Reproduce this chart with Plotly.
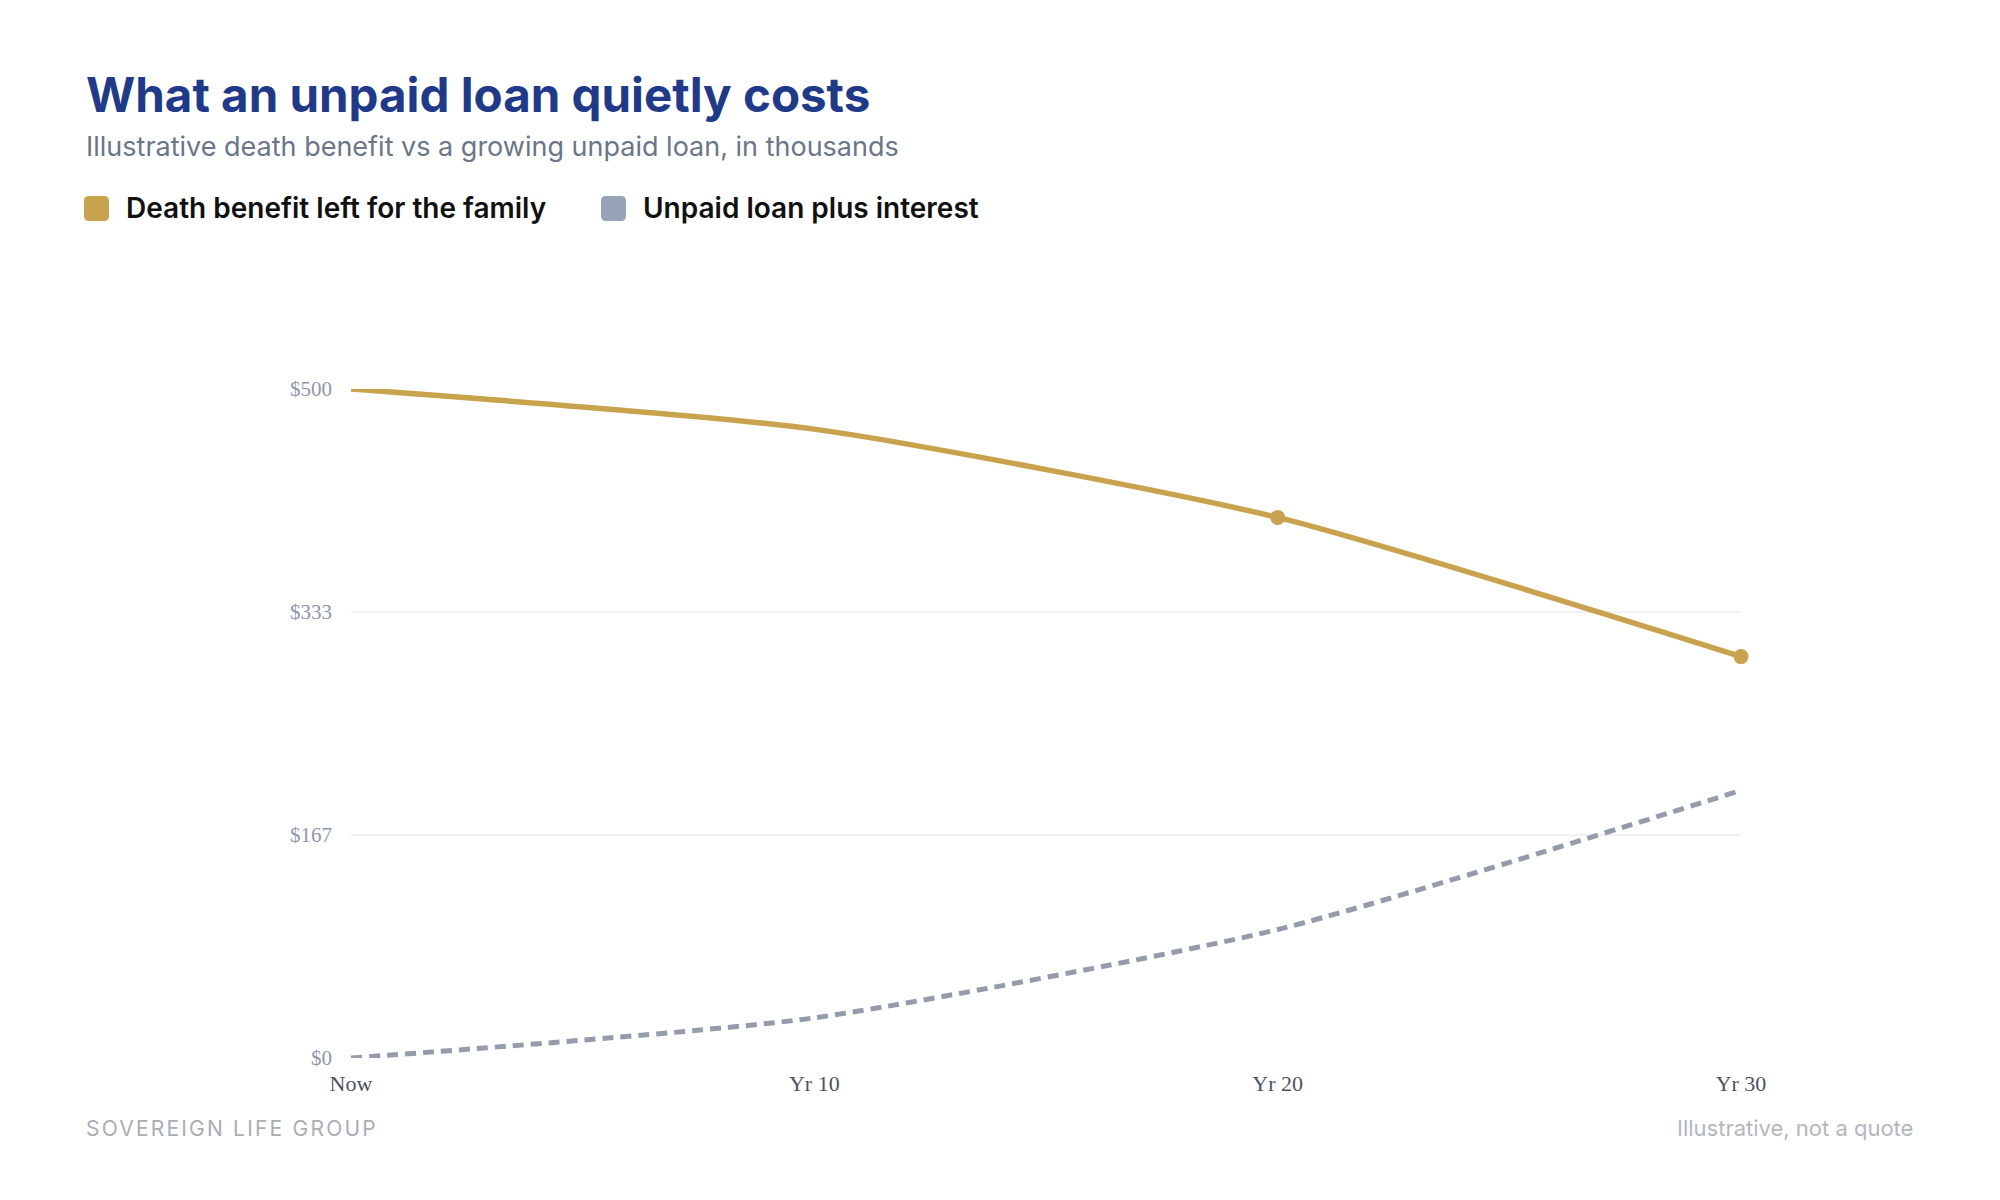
import plotly.graph_objects as go

# ---- data ----
periods = ["Now", "Yr 10", "Yr 20", "Yr 30"]
benefit = [500, 470, 404, 300]
loan = [0, 30, 96, 200]
y_ticks = [0, 500 / 3, 1000 / 3, 500]
y_tick_labels = ["$0", "$167", "$333", "$500"]
series_names = ["Death benefit left for the family", "Unpaid loan plus interest"]
title_text = "What an unpaid loan quietly costs"
subtitle_text = "Illustrative death benefit vs a growing unpaid loan, in thousands"
footer_left = "SOVEREIGN LIFE GROUP"
footer_right = "Illustrative, not a quote"

GOLD = "#c9a24d"
SLATE = "#949cab"

W, H = 2000, 1200
L, R, T, B = 351, 259, 389, 142
PW, PH = W - L - R, H - T - B


def px(x):
    return (x - L) / PW


def py(y):
    return (H - B - y) / PH


def rounded_square(x0, y0, size, r):
    # pixel coords -> paper path
    x1, y1 = x0 + size, y0 + size
    pts = [
        f"M {px(x0 + r)},{py(y0)}",
        f"L {px(x1 - r)},{py(y0)}",
        f"Q {px(x1)},{py(y0)} {px(x1)},{py(y0 + r)}",
        f"L {px(x1)},{py(y1 - r)}",
        f"Q {px(x1)},{py(y1)} {px(x1 - r)},{py(y1)}",
        f"L {px(x0 + r)},{py(y1)}",
        f"Q {px(x0)},{py(y1)} {px(x0)},{py(y1 - r)}",
        f"L {px(x0)},{py(y0 + r)}",
        f"Q {px(x0)},{py(y0)} {px(x0 + r)},{py(y0)}",
        "Z",
    ]
    return " ".join(pts)


fig = go.Figure()

fig.add_trace(go.Scatter(
    x=periods, y=loan, name=series_names[1], mode="lines",
    line=dict(color=SLATE, width=5, dash="11px,7px", shape="spline", smoothing=0.6),
    showlegend=False, cliponaxis=False,
))
fig.add_trace(go.Scatter(
    x=periods, y=benefit, name=series_names[0], mode="lines+markers",
    line=dict(color=GOLD, width=5.5, shape="spline", smoothing=0.6),
    marker=dict(color=GOLD, size=[0, 0, 15, 15], opacity=1, line=dict(width=0)),
    showlegend=False, cliponaxis=False,
))

font_sans = "Inter, 'Noto Sans', sans-serif"

annotations = [
    dict(text=f"<b>{title_text}</b>", x=px(84), y=py(94), xref="paper", yref="paper",
         xanchor="left", yanchor="middle", showarrow=False,
         font=dict(family=font_sans, size=47.5, color="#1f3a8a", weight=800)),
    dict(text=subtitle_text, x=px(84), y=py(147), xref="paper", yref="paper",
         xanchor="left", yanchor="middle", showarrow=False,
         font=dict(family=font_sans, size=27, color="#6b7689")),
    dict(text=series_names[0], x=px(124), y=py(208), xref="paper", yref="paper",
         xanchor="left", yanchor="middle", showarrow=False,
         font=dict(family=font_sans, size=28, color="#111111", weight=600)),
    dict(text=series_names[1], x=px(641), y=py(208), xref="paper", yref="paper",
         xanchor="left", yanchor="middle", showarrow=False,
         font=dict(family=font_sans, size=28, color="#111111", weight=600)),
    dict(text=f'<span style="letter-spacing:2.2px">{footer_left}</span>',
         x=px(84), y=py(1128), xref="paper", yref="paper",
         xanchor="left", yanchor="middle", showarrow=False,
         font=dict(family=font_sans, size=21, color="#a9adb6")),
    dict(text=footer_right, x=px(1915), y=py(1128), xref="paper", yref="paper",
         xanchor="right", yanchor="middle", showarrow=False,
         font=dict(family=font_sans, size=22, color="#b3b7be")),
]

shapes = [
    dict(type="path", xref="paper", yref="paper", path=rounded_square(84, 196, 25, 5),
         fillcolor=GOLD, line=dict(width=0)),
    dict(type="path", xref="paper", yref="paper", path=rounded_square(601, 196, 25, 5),
         fillcolor="#97a3b6", line=dict(width=0)),
]

fig.update_layout(
    width=W, height=H,
    margin=dict(l=L, r=R, t=T, b=B, pad=0),
    paper_bgcolor="white", plot_bgcolor="white",
    showlegend=False,
    annotations=annotations, shapes=shapes,
    xaxis=dict(
        type="category", range=[0, 3], showgrid=False, zeroline=False, showline=False,
        ticks="", tickfont=dict(family="'Liberation Serif', 'Times New Roman', serif", size=22, color="#4b5262"),
        ticklabelstandoff=10,
    ),
    yaxis=dict(
        range=[0, 500], tickvals=y_ticks, ticktext=y_tick_labels,
        showgrid=True, gridcolor="#f1f1f3", gridwidth=1.5, zeroline=False, showline=False,
        ticks="", tickfont=dict(family="'Liberation Serif', 'Times New Roman', serif", size=21, color="#8e97aa"),
        ticklabelstandoff=18,
    ),
)

fig.write_html("out.html")
